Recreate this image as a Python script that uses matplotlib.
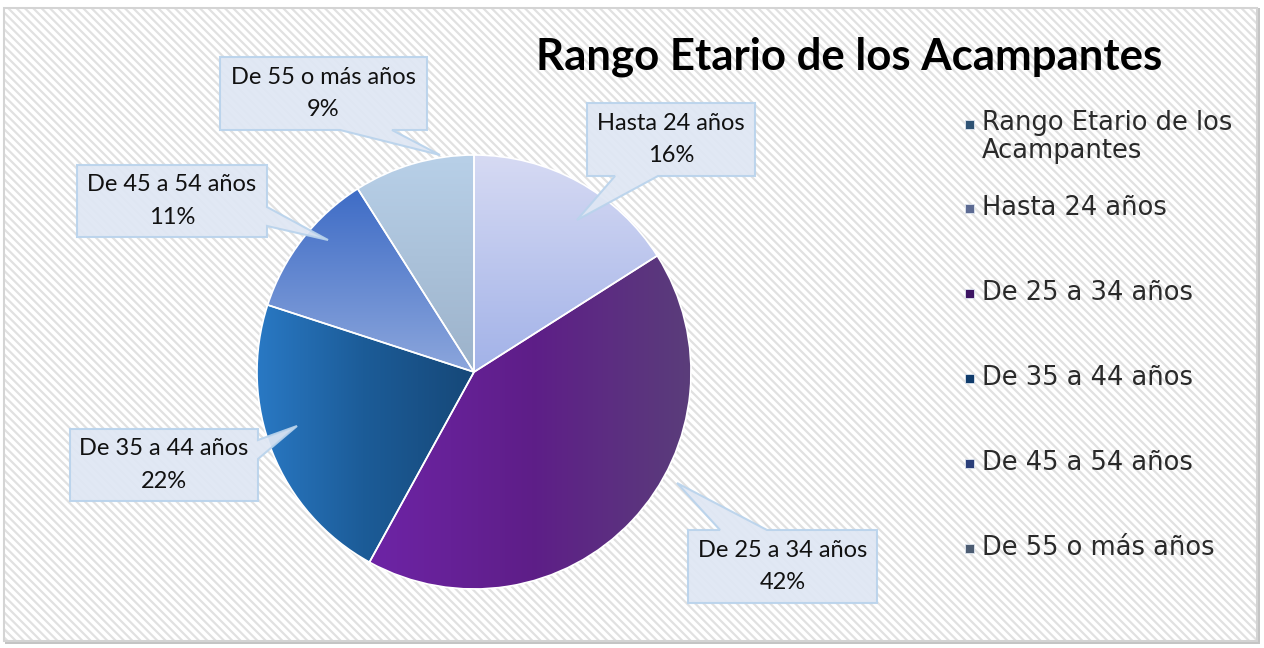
import numpy as np
import matplotlib
matplotlib.use('Agg')
import matplotlib.pyplot as plt
from matplotlib.patches import Rectangle, Polygon
from matplotlib.colors import to_rgb

plt.rcParams['font.family'] = ['Lato', 'DejaVu Sans']
plt.rcParams['hatch.linewidth'] = 1.6

# data
title = 'Rango Etario de los Acampantes'
categories = ['Hasta 24 años', 'De 25 a 34 años', 'De 35 a 44 años',
              'De 45 a 54 años', 'De 55 o más años']
shares = [16, 42, 22, 11, 9]
legend_labels = ['Rango Etario de los\nAcampantes'] + categories
legend_colors = ['#2e5274', '#5c6a92', '#3c1462', '#0f3b6b', '#2b3f7a', '#4c5c72']

# slice gradients: (stops, vertical?)
slice_grads = [
    (['#d6daf3', '#a2b2e8'], True),
    (['#6e24a6', '#5e1e88', '#5a3e7a'], False),
    (['#2a7ac6', '#1c5c98', '#164878'], False),
    (['#3e6cc6', '#8ca6dc'], True),
    (['#b8d0e8', '#9cb2ca'], True),
]

# callouts in pixels from top-left: box (l, t, r, b), side, tail base, tail tip
callouts = [
    ((587, 103, 755, 176), 'bottom', (615, 658), (577, 220)),
    ((688, 530, 877, 603), 'top', (720, 767), (677, 483)),
    ((70, 429, 258, 501), 'right', (440, 459), (297, 426)),
    ((77, 165, 267, 237), 'right', (207, 226), (328, 240)),
    ((220, 57, 427, 130), 'bottom', (340, 392), (440, 155)),
]

W, H = 1264, 648


def Y(y):
    return H - y


def gradient(stops, vertical, n=256):
    cols = np.array([to_rgb(c) for c in stops])
    t = np.linspace(0, 1, n)
    pos = np.linspace(0, 1, len(stops))
    g = np.stack([np.interp(t, pos, cols[:, k]) for k in range(3)], axis=-1)
    if vertical:
        return g[:, None, :]
    return g[None, :, :]


def callout_poly(box, side, base, tip):
    l, t, r, b = box
    pts = [(l, t)]
    if side == 'top':
        pts += [(base[0], t), tip, (base[1], t)]
    pts.append((r, t))
    if side == 'right':
        pts += [(r, base[0]), tip, (r, base[1])]
    pts.append((r, b))
    if side == 'bottom':
        pts += [(base[1], b), tip, (base[0], b)]
    pts.append((l, b))
    return [(x, Y(y)) for x, y in pts]


fig = plt.figure(figsize=(12.64, 6.48), dpi=100)
ax = fig.add_axes([0, 0, 1, 1])

# background frame with diagonal stripes
ax.add_patch(Rectangle((5, Y(644)), 1255, 636, facecolor='#c4c4c4',
                       edgecolor='none', zorder=0))
ax.add_patch(Rectangle((4, Y(641)), 1253, 633, facecolor='white',
                       edgecolor='#e1e1e1', hatch='\\\\\\\\', linewidth=0, zorder=0.5))
ax.add_patch(Rectangle((4, Y(641)), 1253, 633, facecolor='none',
                       edgecolor='#d4d4d4', linewidth=1.5, zorder=0.6))

cx, cy, rad = 474, Y(372), 217
wedges, _ = ax.pie(shares, startangle=90, counterclock=False, center=(cx, cy),
                   radius=rad, frame=True,
                   wedgeprops=dict(facecolor='none', edgecolor='white', linewidth=1.2))
for w, (stops, vert) in zip(wedges, slice_grads):
    w.set_zorder(3)
    v = w.get_path().vertices
    x0, x1 = v[:, 0].min(), v[:, 0].max()
    y0, y1 = v[:, 1].min(), v[:, 1].max()
    im = ax.imshow(gradient(stops, vert), extent=(x0, x1, y0, y1), origin='upper',
                   aspect='auto', interpolation='bilinear', zorder=2)
    im.set_clip_path(w)

# data label callouts
for (box, side, base, tip), cat, s in zip(callouts, categories, shares):
    ax.add_patch(Polygon(callout_poly(box, side, base, tip), closed=True,
                         facecolor='#dfe7f4', edgecolor='#b9d3ec', linewidth=1.5,
                         alpha=0.92, zorder=4))
    l, t, r, b = box
    ax.text((l + r) / 2, Y((t + b) / 2), f'{cat}\n{s}%', ha='center', va='center',
            fontsize=17, color='#111111', linespacing=1.7, zorder=5)

ax.text(849, Y(57), title, ha='center', va='center', fontsize=31.5,
        fontweight='bold', color='black', zorder=5)

# legend
leg_y = [124, 208, 293, 378, 463, 548]
for yy, lab, col in zip(leg_y, legend_labels, legend_colors):
    ax.add_patch(Rectangle((965, Y(yy) - 4.5), 9, 9, facecolor=col,
                           edgecolor='#dde4ee', linewidth=0.6, zorder=5))
    ty = yy + 13 if '\n' in lab else yy
    ax.text(982, Y(ty), lab, ha='left', va='center',
            fontsize=18.5, fontweight='normal', color='#2a2a2a', linespacing=1.05,
            zorder=5, family=['DejaVu Sans'])

ax.set_xlim(0, W)
ax.set_ylim(0, H)
ax.set_aspect('auto')
ax.axis('off')

fig.savefig('out.png', dpi=100, facecolor='white')
